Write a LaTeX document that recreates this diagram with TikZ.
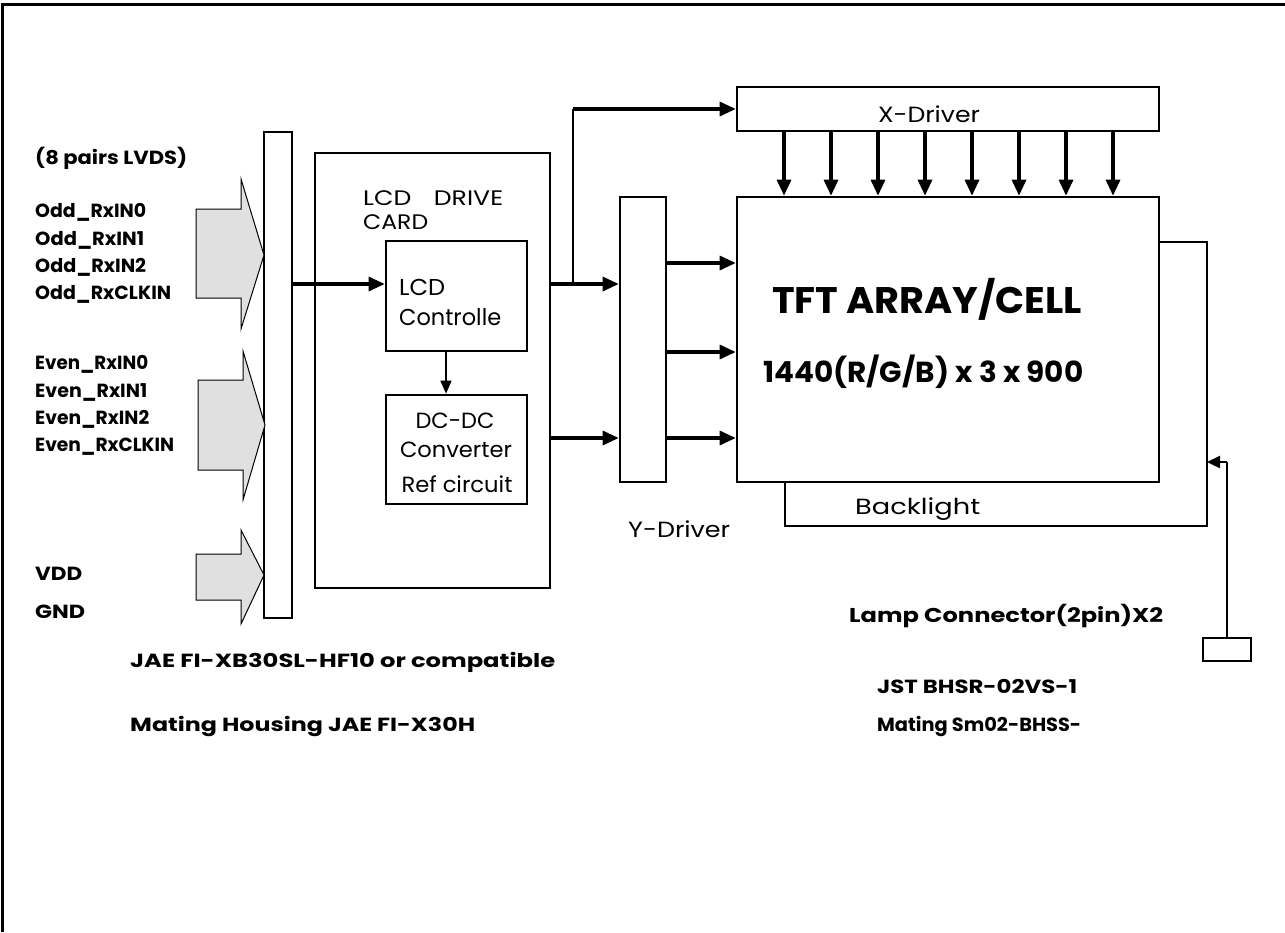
\documentclass[tikz,border=0pt]{standalone}
\usepackage{fontspec}
\setmainfont{Poppins}
\usetikzlibrary{arrows.meta}
\newlength\fitlen
\newcommand\fitto[2]{\settowidth{\fitlen}{#2}\pgfmathsetmacro\fitfac{#1/\fitlen}\scalebox{\fitfac}[1]{#2}}
\newcommand\BL[1]{\fontsize{#1}{#1}\selectfont\bfseries}
\newcommand\RG[1]{\fontsize{#1}{#1}\selectfont}
\begin{document}
\begin{tikzpicture}[x=1pt,y=-1pt,
  box/.style={draw, line width=2.6pt, inner sep=0pt, rectangle},
  thinbox/.style={draw, line width=1.3pt, inner sep=0pt, rectangle},
  arr/.style={line width=3.2pt, -{Triangle[length=16pt,width=14pt]}},
  tarr/.style={line width=1.4pt, -{Triangle[length=13pt,width=11pt]}},
  sarr/.style={line width=2.4pt, -{Triangle[length=13pt,width=12pt]}},
  wire/.style={line width=1.6pt},
  bigarrow/.style={draw, line width=1pt, fill=black!12},
  lbl/.style={inner sep=0pt, anchor=base west},
  clbl/.style={inner sep=0pt, anchor=base},
]
\useasboundingbox (0,0) rectangle (1285,932);
% frame
\draw[line width=3pt] (2.5,932) -- (2.5,4) -- (1285,4);

% boxes
\node[thinbox, minimum width=28pt, minimum height=486pt] (bar) at (278,375) {};
\node[box, minimum width=235pt, minimum height=435pt] (card) at (432.5,370.5) {};
\node[box, minimum width=141pt, minimum height=110pt] (ctrl) at (456.5,296) {};
\node[box, minimum width=141pt, minimum height=109pt] (dc) at (456.5,449.5) {};
\node[box, minimum width=46pt, minimum height=285pt] (ydrv) at (643,339.5) {};
\node[box, minimum width=422pt, minimum height=285pt] (tft) at (948,339.5) {};
\node[box, minimum width=422pt, minimum height=44pt] (xdrv) at (948,109) {};
\node[draw, line width=1.5pt, minimum width=48pt, minimum height=23pt, inner sep=0pt] (lamp) at (1227,649.5) {};

% big input arrows
\draw[bigarrow] (196,209) -- (241,209) -- (241,179) -- (264,255) -- (241,329) -- (241,298) -- (196,298) -- cycle;
\draw[bigarrow] (198,380) -- (243,380) -- (243,351) -- (265,425) -- (243,500) -- (243,470) -- (198,470) -- cycle;
\draw[bigarrow] (196,554) -- (241,554) -- (241,530) -- (264,575) -- (241,624) -- (241,600) -- (196,600) -- cycle;

% coordinates
\coordinate (yA) at (0,284);
\coordinate (yB) at (0,438);
\coordinate (br) at (573,284);
\coordinate (bl1) at (785,526);
\coordinate (bl2) at (1207,526);
\coordinate (bl3) at (1207,242);
\coordinate (lk) at (1227,462);

% connectors
\draw[arr] (bar.east |- yA) -- (ctrl.west |- yA);
\draw[tarr] ([xshift=-10.5pt]ctrl.south) -- ([xshift=-10.5pt]dc.north);
\draw[arr] (card.east |- yA) -- (ydrv.west |- yA);
\draw[arr] (card.east |- yB) -- (ydrv.west |- yB);
\draw[wire] (br) -- (br |- xdrv.west);
\draw[arr] (br |- xdrv.west) -- (xdrv.west);
\foreach \yy in {263,352,438} \draw[arr] (ydrv.east |- 0,\yy) -- (tft.west |- 0,\yy);
\foreach \xx in {784,831,878,925,972,1019,1066,1113} \draw[arr] (xdrv.south -| \xx,0) -- (tft.north -| \xx,0);
\draw[wire] (tft.south -| bl1) -- (bl1) -- (bl2) -- (bl3) -- (tft.east |- bl3);
\draw[wire] (lamp.north) -- (lamp.north |- lk);
\draw[sarr] (lamp.north |- lk) -- (bl2 |- lk);

% left labels
\node[lbl] (t0) at (35,164) {\fitto{152pt}{\BL{19pt}(8 pairs LVDS)}};
\node[lbl] (t1) at (35,217) {\fitto{111pt}{\BL{19pt}Odd\_RxIN0}};
\node[lbl] (t2) at (35,245) {\fitto{109pt}{\BL{19pt}Odd\_RxIN1}};
\node[lbl] (t3) at (35,272) {\fitto{111pt}{\BL{19pt}Odd\_RxIN2}};
\node[lbl] (t4) at (35,299) {\fitto{136pt}{\BL{19pt}Odd\_RxCLKIN}};
\node[lbl] (t5) at (35,369) {\fitto{113pt}{\BL{19pt}Even\_RxIN0}};
\node[lbl] (t6) at (35,397) {\fitto{112pt}{\BL{19pt}Even\_RxIN1}};
\node[lbl] (t7) at (35,424) {\fitto{114pt}{\BL{19pt}Even\_RxIN2}};
\node[lbl] (t8) at (35,451) {\fitto{139pt}{\BL{19pt}Even\_RxCLKIN}};
\node[lbl] (t9) at (35,580) {\fitto{47pt}{\BL{19pt}VDD}};
\node[lbl] (t10) at (35,618) {\fitto{50pt}{\BL{19pt}GND}};
\node[lbl] (t11) at (130,667) {\fitto{425pt}{\BL{19pt}JAE FI-XB30SL-HF10 or compatible}};
\node[lbl] (t12) at (130,731) {\fitto{345pt}{\BL{19pt}Mating Housing JAE FI-X30H}};

% card labels
\node[lbl] (t13) at (363,205) {\fitto{140pt}{\RG{21pt}LCD\hspace{0.9em}DRIVE}};
\node[lbl] (t14) at (363,229) {\fitto{65pt}{\RG{21pt}CARD}};
\node[lbl] (t15) at (399,295) {\fitto{46pt}{\RG{23pt}LCD}};
\node[lbl] (t16) at (399,325) {\fitto{102pt}{\RG{23pt}Controlle}};
\node[clbl] (t17) at (455,428) {\fitto{79pt}{\RG{22pt}DC-DC}};
\node[clbl] (t18) at (456,457) {\fitto{112pt}{\RG{22pt}Converter}};
\node[clbl] (t19) at (457,492) {\fitto{111pt}{\RG{22pt}Ref circuit}};

% driver / panel labels
\node[clbl] (t20) at (929,122) {\fitto{102pt}{\RG{22pt}X-Driver}};
\node[lbl] (t21) at (628,537) {\fitto{102pt}{\RG{22pt}Y-Driver}};
\node[lbl] (t22) at (855,514) {\fitto{125pt}{\RG{22pt}Backlight}};
\node[lbl] (t23) at (772,313) {\fitto{310pt}{\BL{37pt}TFT ARRAY/CELL}};
\node[lbl] (t24) at (763,382) {\fitto{320pt}{\BL{29pt}1440(R/G/B) x 3 x 900}};

% right bottom labels
\node[lbl] (t25) at (849,622) {\fitto{314pt}{\BL{20pt}Lamp Connector(2pin)X2}};
\node[lbl] (t26) at (877,693) {\fitto{200pt}{\BL{19pt}JST BHSR-02VS-1}};
\node[lbl] (t27) at (877,731) {\fitto{204pt}{\BL{19pt}Mating Sm02-BHSS-}};
\end{tikzpicture}
\end{document}
